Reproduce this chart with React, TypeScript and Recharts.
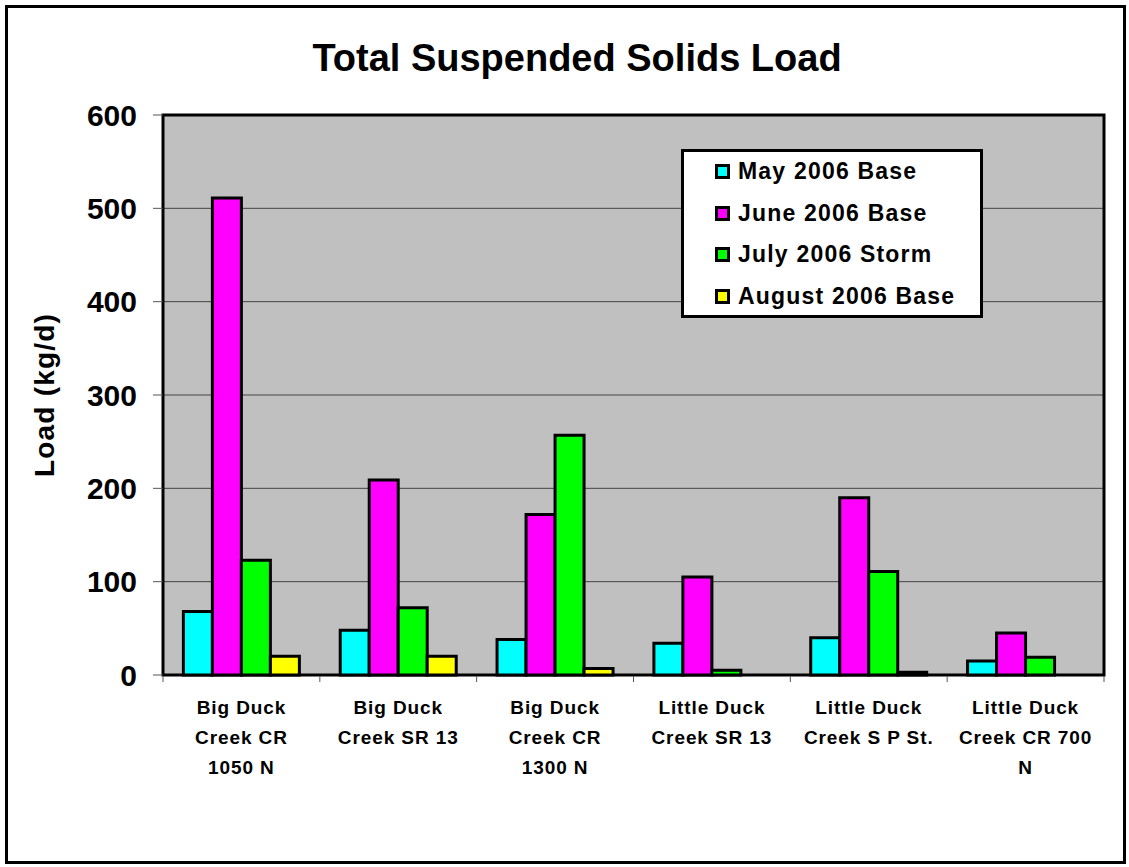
import React from 'react';
import { BarChart, Bar, XAxis, YAxis, CartesianGrid, ReferenceArea, Legend } from 'recharts';

// sampling sites (categories) and how each label wraps under the axis
const sites = [
    'Big Duck Creek CR 1050 N',
    'Big Duck Creek SR 13',
    'Big Duck Creek CR 1300 N',
    'Little Duck Creek SR 13',
    'Little Duck Creek S P St.',
    'Little Duck Creek CR 700 N',
];
const siteLines = [
    ['Big Duck', 'Creek CR', '1050 N'],
    ['Big Duck', 'Creek SR 13'],
    ['Big Duck', 'Creek CR', '1300 N'],
    ['Little Duck', 'Creek SR 13'],
    ['Little Duck', 'Creek S P St.'],
    ['Little Duck', 'Creek CR 700', 'N'],
];

// loads in kg/d, null = no bar
const may2006 = [68, 48, 38, 34, 40, 15];
const june2006 = [511, 209, 172, 105, 190, 45];
const july2006 = [123, 72, 257, 5, 111, 19];
const aug2006 = [20, 20, 7, null, 3, null];

const yTicks = [0, 100, 200, 300, 400, 500, 600];

const seriesNames = ['May 2006 Base', 'June 2006 Base', 'July 2006 Storm', 'August 2006 Base'];
const seriesColors = ['#00ffff', '#ff00ff', '#00ff00', '#ffff00'];

const FONT = "'Liberation Sans', Arial, sans-serif";

const data = sites.map((site, i) => ({
    site,
    may: may2006[i],
    june: june2006[i],
    july: july2006[i],
    aug: aug2006[i],
}));

const SiteTick = (props: any) => {
    const { x, y, index, payload, width, visibleTicksCount } = props;
    const lines = siteLines[index] || [String(payload.value)];
    const half = payload && payload.offset ? payload.offset : width / visibleTicksCount / 2;
    const isLast = index === visibleTicksCount - 1;
    return (
        <g>
            <line x1={x - half} x2={x - half} y1={y + 1} y2={y + 7} stroke="#555" strokeWidth={1} />
            {isLast && <line x1={x + half} x2={x + half} y1={y + 1} y2={y + 7} stroke="#555" strokeWidth={1} />}
            <text
                x={x}
                y={y}
                textAnchor="middle"
                fontFamily={FONT}
                fontWeight="bold"
                fontSize={19}
                letterSpacing={0.9}
                fill="#000"
            >
                {lines.map((ln: string, k: number) => (
                    <tspan key={k} x={x} y={y + 39 + k * 30}>{ln}</tspan>
                ))}
            </text>
        </g>
    );
};

const LegendBox = (props: any) => {
    // keep the series order (May first), whatever order the payload comes in
    const items = [...(props.payload || [])].sort(
        (a: any, b: any) => seriesNames.indexOf(a.value) - seriesNames.indexOf(b.value)
    );
    return (
        <div
            style={{
                position: 'absolute',
                left: 681,
                top: 149,
                width: 302,
                height: 169,
                border: '3px solid #000',
                boxSizing: 'border-box',
                background: '#fff',
                fontFamily: FONT,
            }}
        >
            {items.map((it: any, i: number) => (
                <div
                    key={i}
                    style={{
                        position: 'absolute',
                        left: 31,
                        top: i * 41.7 - 1.5,
                        height: 41.7,
                        display: 'flex',
                        alignItems: 'center',
                        whiteSpace: 'nowrap',
                    }}
                >
                    <span
                        style={{
                            display: 'inline-block',
                            width: 15,
                            height: 15,
                            boxSizing: 'border-box',
                            border: '3px solid #000',
                            background: it.color,
                        }}
                    />
                    <span
                        style={{
                            marginLeft: 8,
                            fontSize: 23,
                            fontWeight: 'bold',
                            letterSpacing: 1.2,
                            color: '#000',
                        }}
                    >
                        {it.value}
                    </span>
                </div>
            ))}
        </div>
    );
};

const YLabel = (props: any) => {
    const vb = props.viewBox || { x: 0, y: 115, width: 163, height: 560 };
    const cx = vb.x + 44;
    const cy = vb.y + vb.height / 2;
    return (
        <text
            x={cx}
            y={cy}
            transform={`rotate(-90, ${cx}, ${cy})`}
            textAnchor="middle"
            dominantBaseline="central"
            fontFamily={FONT}
            fontWeight="bold"
            fontSize={28}
            letterSpacing={1.2}
            fill="#000"
        >
            Load (kg/d)
        </text>
    );
};

export default function App() {
    return (
        <div style={{ position: 'absolute', left: 0, top: 0, width: 1129, height: 867, background: '#fff' }}>
            <div
                style={{
                    position: 'absolute',
                    left: 5,
                    top: 5,
                    width: 1121,
                    height: 859,
                    border: '3px solid #000',
                    boxSizing: 'border-box',
                }}
            />
            <div
                style={{
                    position: 'absolute',
                    left: 577,
                    top: 39,
                    transform: 'translateX(-50%)',
                    whiteSpace: 'nowrap',
                    fontFamily: FONT,
                    fontWeight: 'bold',
                    fontSize: 38,
                    lineHeight: '38px',
                    color: '#000',
                }}
            >
                Total Suspended Solids Load
            </div>
            <div style={{ position: 'absolute', left: 0, top: 0 }}>
                <BarChart
                    width={1129}
                    height={867}
                    data={data}
                    margin={{ top: 115, right: 25, bottom: 0, left: 0 }}
                    barCategoryGap="13%"
                    barGap={0}
                >
                    <CartesianGrid vertical={false} fill="#c0c0c0" fillOpacity={1} stroke="#444" strokeWidth={1} />
                    <XAxis
                        dataKey="site"
                        height={192}
                        interval={0}
                        axisLine={false}
                        tickLine={false}
                        tickSize={0}
                        tickMargin={0}
                        tick={<SiteTick />}
                    />
                    <YAxis
                        width={163}
                        domain={[0, 600]}
                        ticks={yTicks}
                        interval={0}
                        axisLine={false}
                        tickLine={{ stroke: '#555', strokeWidth: 1 }}
                        tickSize={10}
                        tickMargin={16}
                        tick={{ fontFamily: FONT, fontWeight: 'bold', fontSize: 30, fill: '#000' }}
                        label={<YLabel />}
                    />
                    <Legend verticalAlign="top" content={<LegendBox />} wrapperStyle={{ position: 'absolute', left: 0, top: 0, width: 0, height: 0 }} />
                    <Bar dataKey="may" name={seriesNames[0]} fill={seriesColors[0]} stroke="#000" strokeWidth={3} isAnimationActive={false} />
                    <Bar dataKey="june" name={seriesNames[1]} fill={seriesColors[1]} stroke="#000" strokeWidth={3} isAnimationActive={false} />
                    <Bar dataKey="july" name={seriesNames[2]} fill={seriesColors[2]} stroke="#000" strokeWidth={3} isAnimationActive={false} />
                    <Bar dataKey="aug" name={seriesNames[3]} fill={seriesColors[3]} stroke="#000" strokeWidth={3} isAnimationActive={false} />
                    <ReferenceArea y1={0} y2={600} fill="none" stroke="#000" strokeWidth={3} ifOverflow="visible" />
                </BarChart>
            </div>
        </div>
    );
}
